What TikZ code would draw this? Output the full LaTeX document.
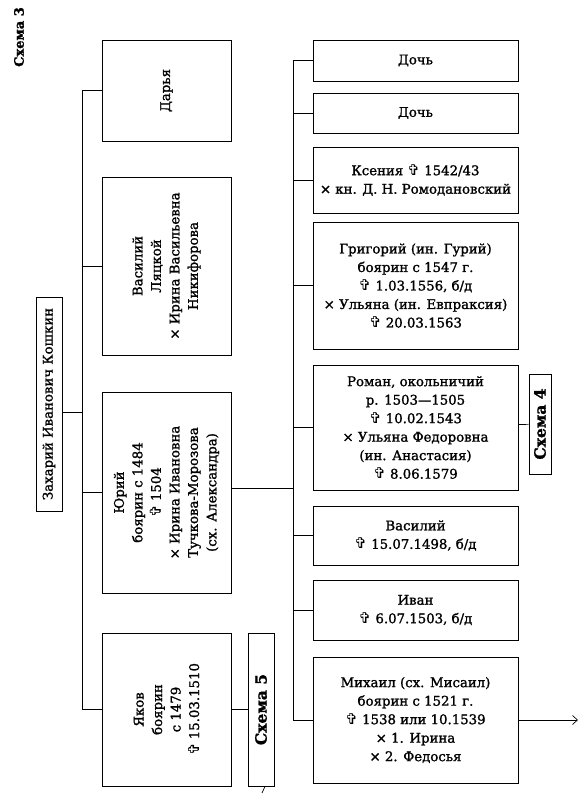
\documentclass[tikz,border=0pt]{standalone}
\usepackage{fontspec}
\setmainfont{DejaVu Serif}[FakeBold=1.4]
\newfontfamily\crossfont{DejaVu Sans}
\usetikzlibrary{arrows.meta}
\newcommand{\dd}{{\crossfont\fontsize{15}{15}\selectfont ✞}}
\tikzset{>={Straight Barb[length=5pt,width=9pt]}}
\tikzset{
  fam/.style={draw, line width=0.9pt, align=center, inner sep=0pt, font=\fontsize{13.3}{18.5}\selectfont},
  sonbox/.style={fam, rotate=90, minimum height=129pt},
  kidbox/.style={fam, minimum width=205pt},
  refbox/.style={fam, font=\fontsize{15.5}{18}\selectfont\bfseries},
  link/.style={line width=0.7pt},
}

\begin{document}
\begin{tikzpicture}[x=1pt,y=-1pt]
    \useasboundingbox (0,0) rectangle (585,800);
    % The page label and the head of the family.
    \node[rotate=90, font=\fontsize{13}{15}\selectfont\bfseries] (s3) at (19,37) {Схема 3};
    \node[fam, rotate=90, minimum width=214pt, minimum height=26pt] (kosh) at (49,404) {Захарий Иванович Кошкин};
    \coordinate (lbus) at (82,0);
    \coordinate (rbus) at (293,0);

    % His children, written sideways.
    \node[sonbox, minimum width=101pt] (dar) at (166.5,90.5) {Дарья};
    \node[sonbox, minimum width=178pt] (vas) at (166.5,266) {Василий\\Ляцкой\\× Ирина Васильевна\\Никифорова};
    \node[sonbox, minimum width=201pt] (yur) at (166.5,492.5) {Юрий\\боярин с 1484\\\dd{} 1504\\× Ирина Ивановна\\Тучкова-Морозова\\(сх. Александра)};
    \node[sonbox, minimum width=153pt] (yak) at (166.5,709.5) {Яков\\боярин\\с 1479\\\dd{} 15.03.1510};
    \node[refbox, rotate=90, minimum width=153pt, minimum height=26pt] (s5) at (261,709.5) {Схема 5};

    % The children of Yuri.
    \node[kidbox, minimum height=41pt] (d1) at (415.5,60.5) {Дочь};
    \node[kidbox, minimum height=40pt] (d2) at (415.5,113) {Дочь};
    \node[kidbox, minimum height=66pt] (ks) at (415.5,180) {Ксения \dd{} 1542/43\\× кн. Д. Н. Ромодановский};
    \node[kidbox, minimum height=127pt] (gr) at (415.5,285.5) {Григорий (ин. Гурий)\\боярин с 1547 г.\\\dd{} 1.03.1556, б/д\\× Ульяна (ин. Евпраксия)\\\dd{} 20.03.1563};
    \node[kidbox, minimum height=125pt] (ro) at (415.5,427.5) {Роман, окольничий\\р. 1503—1505\\\dd{} 10.02.1543\\× Ульяна Федоровна\\(ин. Анастасия)\\\dd{} 8.06.1579};
    \node[kidbox, minimum height=59pt] (va) at (415.5,535.5) {Василий\\\dd{} 15.07.1498, б/д};
    \node[kidbox, minimum height=60pt] (iv) at (415.5,610) {Иван\\\dd{} 6.07.1503, б/д};
    \node[kidbox, minimum height=126pt] (mi) at (415.5,720) {Михаил (сх. Мисаил)\\боярин с 1521 г.\\\dd{} 1538 или 10.1539\\× 1. Ирина\\× 2. Федосья};
    \node[refbox, rotate=90, minimum width=100pt, minimum height=22pt] (s4) at (540,424) {Схема 4};
    \coordinate (mout) at (578,720);
    \coordinate (s5out) at (262,793);

    % Draw the lines of descent.
    \draw[link] ([yshift=-8pt]kosh.south) -- ([yshift=-8pt]kosh.south -| lbus);
    \draw[link] (lbus |- dar) -- (lbus |- yak);
    \foreach \k in {dar,vas,yur,yak}
        \draw[link] (lbus |- \k) -- (\k);
    \draw[link] (yak) -- (s5);
    \draw[link] ([xshift=4pt]s5.west) -- (s5out);
    \draw[link] ([yshift=4pt]yur.south) -- ([yshift=4pt]yur.south -| rbus);
    \draw[link] (rbus |- d1) -- (rbus |- mi);
    \foreach \k in {d1,d2,ks,gr,ro,va,iv,mi}
        \draw[link] (rbus |- \k) -- (\k);
    \draw[link] (ro) -- (s4);
    \draw[link,->] (mi) -- (mout);
\end{tikzpicture}
\end{document}
